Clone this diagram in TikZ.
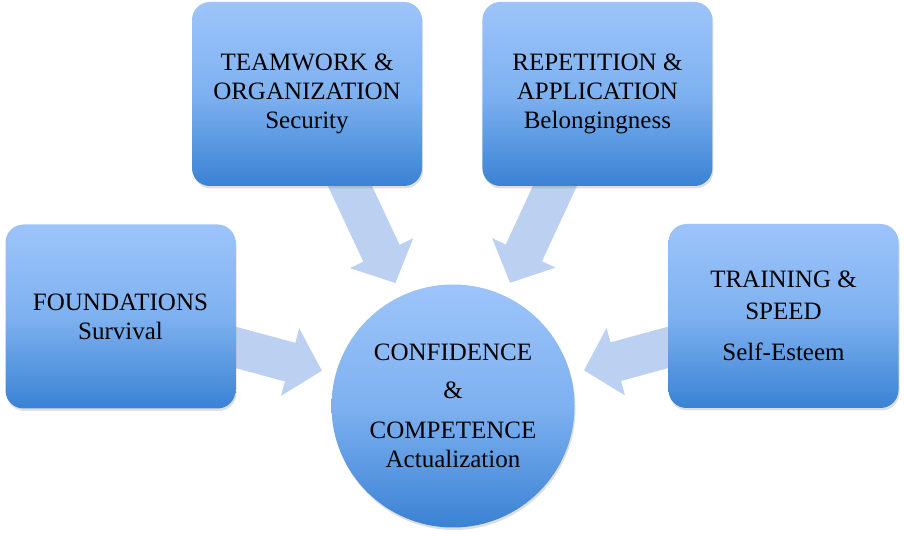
\documentclass[tikz,border=0pt]{standalone}
\usepackage{fontspec}
\setmainfont{Liberation Serif}
\usetikzlibrary{arrows.meta,positioning,shadows,backgrounds}

\definecolor{boxtop}{RGB}{157,196,250}
\definecolor{boxmid}{RGB}{126,177,240}
\definecolor{boxbot}{RGB}{58,130,212}
\definecolor{arrowblue}{RGB}{188,209,242}

\begin{document}
\begin{tikzpicture}[
        x=1pt, y=1pt,
        level/.style={rectangle, rounded corners=18pt, minimum width=230pt, minimum height=184pt,
            inner sep=0pt, align=center, top color=boxtop, bottom color=boxbot, middle color=boxmid,
            drop shadow={opacity=0.25, shadow xshift=1pt, shadow yshift=-2.5pt},
            font=\fontsize{25}{29}\selectfont},
        core/.style={circle, minimum size=243pt, inner sep=0pt, align=center,
            top color=boxtop, bottom color=boxbot, middle color=boxmid,
            drop shadow={opacity=0.25, shadow xshift=1pt, shadow yshift=-2.5pt},
            font=\fontsize{25}{29}\selectfont},
        bigarrow/.style={draw=arrowblue, line width=40pt, -{Triangle[width=68pt,length=33pt]},
            shorten >=14pt, shorten <=-20pt}
    ]
        \useasboundingbox (0,0) rectangle (904,537);

        % Center
        \node[core] (confidence) at (453,131) {CONFIDENCE\\[9pt]\&\\[11pt]COMPETENCE\\Actualization};

        % Levels
        \node[level] (foundations) at (120.5,220.5) {FOUNDATIONS\\Survival};
        \node[level] (teamwork) at (307,443) {TEAMWORK \&\\ORGANIZATION\\Security};
        \node[level, right=60pt of teamwork] (repetition) {REPETITION \&\\APPLICATION\\Belongingness};
        \node[level] (training) at (783.5,221) {TRAINING \&\\[3pt]SPEED\\[12pt]Self-Esteem};

        % Arrows into the center
        \begin{scope}[on background layer]
            \draw[bigarrow] (foundations) -- (confidence);
            \draw[bigarrow] (teamwork) -- (confidence);
            \draw[bigarrow] (repetition) -- (confidence);
            \draw[bigarrow] (training) -- (confidence);
        \end{scope}
    \end{tikzpicture}
\end{document}
